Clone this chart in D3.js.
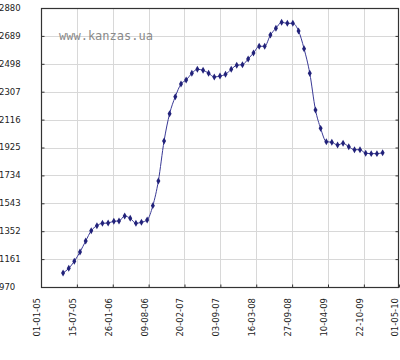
<!DOCTYPE html>
<html><head><meta charset="utf-8">
<script src="https://cdn.jsdelivr.net/npm/d3@7"></script>
<style>body{margin:0;background:#fff}svg{display:block}</style>
</head><body><svg id="c" width="400" height="360"></svg>
<script>
// Data: monthly values, May 2005 .. Feb 2010
const startMonth = [2005, 4]; // year, month index (May)
const values = [1066,1098,1146,1210,1285,1355,1390,1406,1408,1420,1422,1456,1440,1406,1413,1429,
  1527,1696,1970,2156,2273,2360,2387,2433,2460,2454,2433,2408,2414,2426,2460,2488,2492,2531,2572,2618,2618,
  2695,2741,2782,2775,2775,2723,2601,2433,2182,2056,1965,1961,1942,1954,1930,1910,1910,1885,1883,1883,1889];
const xTickLabels = ["01-01-05","15-07-05","26-01-06","09-08-06","20-02-07","03-09-07","16-03-08","27-09-08","10-04-09","22-10-09","01-05-10"];
const yTicks = [970,1161,1352,1543,1734,1925,2116,2307,2498,2689,2880];
const watermark = "www.kanzas.ua";

const parse = d3.timeParse("%d-%m-%y");
const dates = values.map((v,i)=> new Date(startMonth[0], startMonth[1]+i, 1));
const tickDates = xTickLabels.map(parse);

const svg = d3.select("#c");
const L=41, R=399, T=8, B=287;
const x = d3.scaleTime().domain([tickDates[0], tickDates[tickDates.length-1]]).range([L,R]);
const y = d3.scaleLinear().domain([yTicks[0], yTicks[yTicks.length-1]]).range([B,T]);

// grid
const g = svg.append("g");
g.selectAll(".vg").data(tickDates.slice(1,-1)).join("line")
  .attr("x1",d=>Math.round(x(d))+0.5).attr("x2",d=>Math.round(x(d))+0.5)
  .attr("y1",T).attr("y2",B).attr("stroke","#d8d8d8").attr("stroke-width",1);
g.selectAll(".hg").data(yTicks.slice(1,-1)).join("line")
  .attr("y1",d=>Math.round(y(d))+0.5).attr("y2",d=>Math.round(y(d))+0.5)
  .attr("x1",L).attr("x2",R).attr("stroke","#d8d8d8").attr("stroke-width",1);

// watermark
svg.append("text").attr("x",59).attr("y",40).text(watermark)
  .attr("font-family","DejaVu Sans Mono").attr("font-size",12).attr("fill","#8a8a8a");

// frame
svg.append("rect").attr("x",L+0.5).attr("y",T+0.5).attr("width",R-L-1).attr("height",B-T)
  .attr("fill","none").attr("stroke","#333").attr("stroke-width",1.2);

// axes with inward ticks
const ya = d3.axisRight(y).tickValues(yTicks).tickSize(3).tickFormat("");
svg.append("g").attr("transform",`translate(${L+0.5},0)`).call(ya)
  .call(s=>{s.select(".domain").remove(); s.selectAll("line").attr("stroke","#333");});
const yr = d3.axisLeft(y).tickValues(yTicks).tickSize(3).tickFormat("");
svg.append("g").attr("transform",`translate(${R-0.5},0)`).call(yr)
  .call(s=>{s.select(".domain").remove(); s.selectAll("line").attr("stroke","#333");});
const xa = d3.axisTop(x).tickValues(tickDates).tickSize(3).tickFormat("");
svg.append("g").attr("transform",`translate(0,${B+0.5})`).call(xa)
  .call(s=>{s.select(".domain").remove(); s.selectAll("line").attr("stroke","#333");});

// y labels
svg.selectAll(".yl").data(yTicks).join("text")
  .attr("x",-1).attr("y",d=>y(d)).attr("dy","0.35em").text(d=>d)
  .attr("font-family","DejaVu Sans").attr("font-size",8.5).attr("fill","#222");

// x labels
svg.selectAll(".xl").data(tickDates).join("text")
  .attr("transform",(d)=>`translate(${x(d)-1},298) rotate(-90)`)
  .attr("text-anchor","end").text((d,i)=>xTickLabels[i])
  .attr("font-family","DejaVu Sans").attr("font-size",8.5).attr("fill","#222");

// line
const line = d3.line().x((d,i)=>x(dates[i])).y(d=>y(d)).curve(d3.curveMonotoneX);
svg.append("path").datum(values).attr("d",line).attr("fill","none")
  .attr("stroke","#3a3a96").attr("stroke-width",1);

// markers (small diamonds)
const sym = d3.symbol().type(d3.symbolDiamond).size(14);
svg.selectAll(".pt").data(values).join("path")
  .attr("transform",(d,i)=>`translate(${x(dates[i])},${y(d)})`)
  .attr("d",sym).attr("fill","#22227a");
</script></body></html>
